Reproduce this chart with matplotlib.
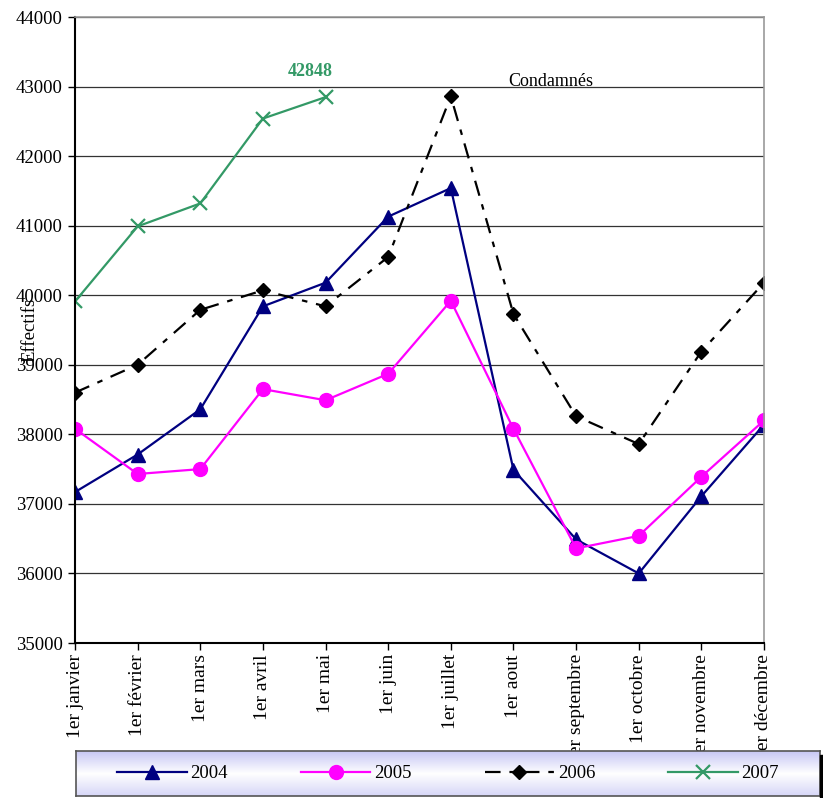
import numpy as np
import matplotlib
matplotlib.use('Agg')
import matplotlib.pyplot as plt

plt.rcParams['font.family'] = ['Liberation Serif', 'DejaVu Serif']

mois = ['1er janvier', '1er février', '1er mars', '1er avril', '1er mai', '1er juin',
        '1er juillet', '1er aout', '1er septembre', '1er octobre', '1er novembre',
        '1er décembre']
v2004 = [37170, 37710, 38360, 39840, 40180, 41130, 41540, 37490, 36490, 36000, 37110, 38140]
v2005 = [38080, 37430, 37500, 38650, 38490, 38870, 39920, 38080, 36360, 36540, 37390, 38200]
v2006 = [38600, 39000, 39790, 40070, 39840, 40550, 42860, 39730, 38260, 37860, 39190, 40180]
v2007 = [39910, 40990, 41320, 42540, 42848]

W, H = 823, 798
fig = plt.figure(figsize=(W/100, H/100), dpi=100)
ax = fig.add_axes([75/W, 1-643/H, (764-75)/W, (643-17)/H])

x = np.arange(len(mois))
ax.plot(x, v2004, color='#000080', lw=1.6, marker='^', ms=10, label='2004')
ax.plot(x, v2005, color='#ff00ff', lw=1.6, marker='o', ms=10, label='2005')
ax.plot(x, v2006, color='black', lw=1.6, ls=(0, (7, 4, 2.5, 4)), marker='D', ms=7.5, label='2006')
ax.plot(x[:len(v2007)], v2007, color='#339966', lw=1.6, marker='x', ms=10, mew=1.6, label='2007')

ax.set_xlim(0, len(mois)-1)
ax.set_ylim(35000, 44000)
ax.set_yticks(np.arange(35000, 44001, 1000))
ax.set_xticks(x)
ax.set_xticklabels(mois, rotation=90, fontsize=14)
ax.tick_params(axis='y', labelsize=13.5, direction='out', length=5, width=1, pad=4)
ax.tick_params(axis='x', direction='out', length=5, width=1, pad=3)
ax.yaxis.grid(True, color='#333333', lw=0.9)
ax.set_axisbelow(True)
for s in ['top', 'right']:
    ax.spines[s].set_color('#999999')
    ax.spines[s].set_linewidth(1.2)
for s in ['left', 'bottom']:
    ax.spines[s].set_color('black')
    ax.spines[s].set_linewidth(1.5)

fig.text(30/W, 1-330/H, 'Effectifs', rotation=90, ha='center', va='center', fontsize=13.5)
ax.text(4 - 0.25, 43100, '42848', color='#339966', fontsize=13, fontweight='bold', ha='center', va='bottom')
ax.text(7.6, 42950, 'Condamnés', fontsize=13, ha='center', va='bottom')

# legend box with gradient
lax = fig.add_axes([76/W, 1-796/H, (820-76)/W, (796-751)/H])
t = np.linspace(0, 1, 100)
top = np.array([0.78, 0.78, 0.96])
mid = np.array([1.0, 1.0, 1.0])
bot = np.array([0.84, 0.84, 0.97])
cols = np.array([top + (mid-top)*(v/0.5) if v < 0.5 else mid + (bot-mid)*((v-0.5)/0.5) for v in t])
lax.imshow(cols[:, None, :], aspect='auto', extent=[0, 1, 0, 1])
lax.set_xlim(0, 1); lax.set_ylim(0, 1)
lax.set_xticks([]); lax.set_yticks([])
for s in lax.spines.values():
    s.set_color('#555555'); s.set_linewidth(1.2)
fig.add_artist(plt.Rectangle((820/W, 1-798/H), 3/W, (798-755)/H, color='black', transform=fig.transFigure))
handles, labels = ax.get_legend_handles_labels()
lax.legend(handles, labels, loc='center', ncol=4, frameon=False, fontsize=13.5,
           handlelength=3.7, columnspacing=3.9, handletextpad=0.2, borderpad=0, borderaxespad=0)

fig.savefig('out.png', dpi=100)
